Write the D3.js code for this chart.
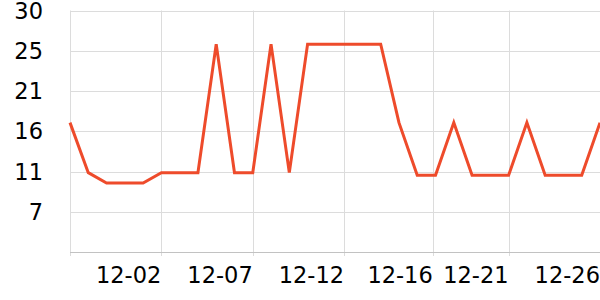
<!DOCTYPE html>
<html>
<head>
<meta charset="utf-8">
<script src="https://cdn.jsdelivr.net/npm/d3@7"></script>
<style>
  html, body { margin: 0; padding: 0; background: #fff; }
  svg { display: block; font-family: "DejaVu Sans", sans-serif; }
</style>
</head>
<body>
<div class="chart"></div>
<script>
// data, one value per day
var values = [17, 11.2, 10, 10, 10, 11.2, 11.2, 11.2, 26.1, 11.2,
  11.2, 26.1, 11.2, 26.1, 26.1, 26.1, 26.1, 26.1, 17, 10.9,
  10.9, 17, 10.9, 10.9, 10.9, 17, 10.9, 10.9, 10.9, 17];
var xTickPos = [0, 5, 10, 15, 19.85, 24, 29];
var xTickLabels = ["", "12-02", "12-07", "12-12", "12-16", "12-21", "12-26"];
var yTicks = [2, 6.667, 11.333, 16, 20.667, 25.333, 30];

var width = 600;
var height = 300;
var margin = {top: 10.5, right: 0, bottom: 48, left: 70};

var svg = d3.select(".chart")
  .append("svg")
  .attr("width", width)
  .attr("height", height);

var x = d3.scaleLinear()
  .domain([0, values.length - 1])
  .range([margin.left, width - margin.right]);

var y = d3.scaleLinear()
  .domain([2, 30])
  .range([height - margin.bottom, margin.top]);

// horizontal grid
svg.append("g")
  .selectAll("line")
  .data(yTicks.slice(1))
  .enter()
  .append("line")
  .attr("x1", margin.left)
  .attr("x2", width)
  .attr("y1", function(d){ return Math.round(y(d)) + 0.5; })
  .attr("y2", function(d){ return Math.round(y(d)) + 0.5; })
  .style("stroke", "#dcdcdc");

// vertical grid
svg.append("g")
  .selectAll("line")
  .data(xTickPos)
  .enter()
  .append("line")
  .attr("x1", function(d){ return Math.round(x(d)) + 0.5; })
  .attr("x2", function(d){ return Math.round(x(d)) + 0.5; })
  .attr("y1", margin.top)
  .attr("y2", height - margin.bottom + 4)
  .style("stroke", "#dcdcdc");

// bottom axis line
svg.append("line")
  .attr("x1", margin.left)
  .attr("x2", width)
  .attr("y1", Math.round(y(2)) + 0.5)
  .attr("y2", Math.round(y(2)) + 0.5)
  .style("stroke", "#c2c2c2");

// y labels (bottom one is hidden)
svg.append("g")
  .selectAll("text")
  .data(yTicks.slice(1))
  .enter()
  .append("text")
  .attr("x", 43)
  .attr("y", function(d){ return y(d); })
  .attr("dy", "0.36em")
  .attr("text-anchor", "end")
  .style("font-size", "22.5px")
  .style("fill", "#000")
  .text(function(d){ return Math.round(d); });

// x labels, right aligned on the tick
svg.append("g")
  .selectAll("text")
  .data(xTickPos)
  .enter()
  .append("text")
  .attr("x", function(d){ return x(d); })
  .attr("y", 282.5)
  .attr("text-anchor", "end")
  .style("font-size", "22.5px")
  .style("fill", "#000")
  .text(function(d, i){ return xTickLabels[i]; });

var line = d3.line()
  .x(function(d, i){ return x(i); })
  .y(function(d){ return y(d); });

svg.append("path")
  .datum(values)
  .attr("d", line)
  .style("fill", "none")
  .style("stroke", "#ee4b2b")
  .style("stroke-width", 3)
  .style("stroke-linejoin", "miter");
</script>
</body>
</html>
